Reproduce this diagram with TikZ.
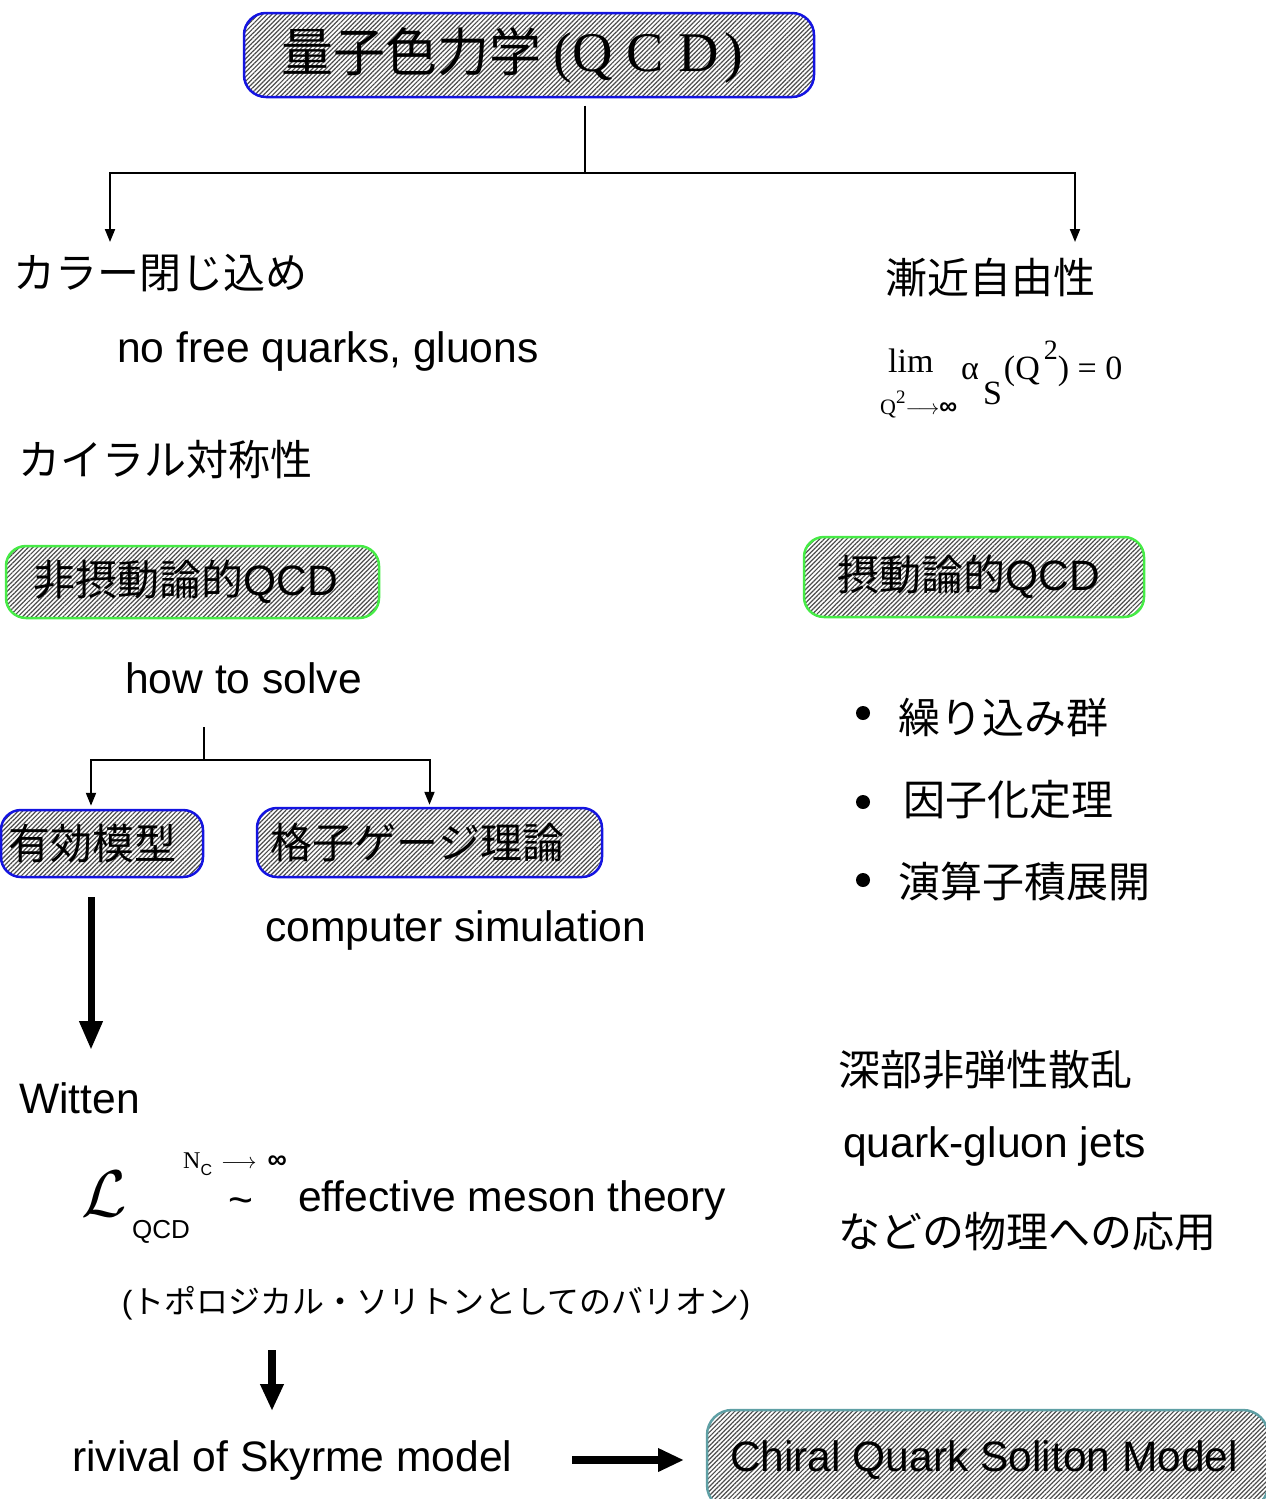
\documentclass[tikz,border=0pt]{standalone}
\usepackage{fix-cm}
\usepackage{fontspec}
\setmainfont{Liberation Sans}
\newfontfamily\cjk{Noto Sans CJK JP}
\newfontfamily\serif{Liberation Serif}
\usetikzlibrary{arrows.meta,patterns.meta}
\definecolor{qblue}{RGB}{20,20,225}
\definecolor{qgreen}{RGB}{70,235,70}
\definecolor{qteal}{RGB}{95,160,165}
\tikzset{
  hbox/.style={rounded corners=20pt, line width=2.5pt, inner sep=0pt,
    pattern={Lines[angle=45,distance=3.2pt,line width=1.2pt]}, pattern color=black!70,
    font=\fontsize{42.5}{50}\selectfont},
  jp/.style={inner sep=0pt, font=\cjk\fontsize{42}{50}\selectfont},
  la/.style={inner sep=0pt, font=\fontsize{42.6}{50}\selectfont},
  conn/.style={line width=2pt},
  thin tip/.style={-{Triangle[width=10pt,length=13pt]}},
  fat/.style={line width=7pt, -{Triangle[width=22pt,length=29pt]}},
  bullet/.style={circle, fill=black, inner sep=0pt, minimum size=14pt}
}
\begin{document}
\begin{tikzpicture}[x=1pt,y=-1pt]
\useasboundingbox (0,0) rectangle (1266,1499);

% top box
\node[hbox, draw=qblue, rounded corners=22pt, minimum width=570pt, minimum height=84pt] (qcd) at (529,55)
  {{\cjk\fontsize{52}{60}\selectfont 量子色力学}\kern12pt{\serif\fontsize{56}{60}\selectfont (Q\kern14pt C\kern14pt D\kern6pt)}\kern33pt};

\coordinate (f1) at (585,173);
\coordinate (a1) at (110,242);
\coordinate (a2) at (1075,242);
\draw[conn, shorten <=8pt] (qcd.south -| f1) -- (f1);
\draw[conn, thin tip] (f1) -| (a1);
\draw[conn, thin tip] (f1) -| (a2);

% left column
\node[jp] (color) at (160,273) {カラー閉じ込め};
\node[la, anchor=base west] (nofree) at (117,362) {no free quarks, gluons};
\node[jp] (chiral) at (165,460) {カイラル対称性};

% right column
\node[jp] (asym) at (990,278) {漸近自由性};
\node[inner sep=0pt, anchor=base west, font=\serif\fontsize{34}{34}\selectfont] (lim) at (888,372) {lim};
\node[inner sep=0pt, anchor=base west] (limsub) at (880,414)
  {{\serif\fontsize{22}{22}\selectfont Q\raisebox{11pt}{\fontsize{19}{19}\selectfont 2}}{\fontsize{21}{21}\selectfont$\longrightarrow$}{\fontsize{25}{25}\selectfont\bfseries ∞}};
\node[inner sep=0pt, anchor=base west, font=\serif\fontsize{34}{34}\selectfont] (alpha) at (961,379)
  {α\kern4pt\raisebox{-25pt}{S}\kern2pt(Q\kern4pt\raisebox{20pt}{\fontsize{28}{28}\selectfont 2}) = 0};

% QCD boxes
\node[hbox, draw=qgreen, minimum width=373pt, minimum height=72pt] (npqcd) at (192.5,582) {{\cjk\fontsize{42}{50}\selectfont 非摂動論的}QCD\kern14pt};
\node[hbox, draw=qgreen, minimum width=340pt, minimum height=80pt] (pqcd) at (974,577) {{\cjk\fontsize{42}{50}\selectfont 摂動論的}QCD\kern10pt};

\node[la, anchor=base west] (solve) at (125,693) {how to solve};

\node[hbox, draw=qblue, minimum width=202pt, minimum height=67pt] (eff) at (102,843.5) {{\cjk\fontsize{42}{50}\selectfont 有効模型}\kern19pt};
\node[hbox, draw=qblue, minimum width=345pt, minimum height=69pt] (lat) at (429.5,842.5) {{\cjk\fontsize{42}{50}\selectfont 格子ゲージ理論}\kern24pt};

\coordinate (f2top) at (204,727);
\coordinate (f2) at (204,760);
\draw[conn] (f2top) -- (f2);
\draw[conn, thin tip, shorten >=3pt] (f2) -| ([xshift=-11pt]eff.north);
\draw[conn, thin tip, shorten >=2pt] (f2) -| (lat.north);

\node[la, anchor=base west] (comp) at (265,941) {computer simulation};

% bullets
\node[bullet] (b1) at (863,713) {};
\node[bullet] (b2) at (863,802) {};
\node[bullet] (b3) at (863,880) {};
\node[jp] (rg) at (1003,718) {繰り込み群};
\node[jp] (fact) at (1008,800) {因子化定理};
\node[jp] (ope) at (1024,882) {演算子積展開};

% thick arrow 1
\coordinate (t1s) at (91,897);
\coordinate (t1e) at (91,1050);
\draw[fat] (t1s) -- (t1e);

\node[la, anchor=base west] (witten) at (19,1113) {Witten};
\node[inner sep=0pt, font=\fontsize{66}{70}\selectfont] (lag) at (104,1194) {$\mathcal{L}$};
\node[inner sep=0pt, anchor=base west, font=\fontsize{26}{30}\selectfont] (lqcd) at (132,1238) {QCD};
\node[inner sep=0pt, anchor=base west] (nc) at (183,1168)
  {{\serif\fontsize{24}{24}\selectfont N}\raisebox{-7pt}{\fontsize{16}{16}\selectfont C}\kern9pt{\fontsize{22}{22}\selectfont$\longrightarrow$}\kern11pt{\fontsize{27}{27}\selectfont\bfseries ∞}};
\node[la, anchor=base] (tilde) at (241,1214) {\textasciitilde};
\node[la, anchor=base west] (emt) at (298,1211) {effective meson theory};

\node[inner sep=0pt, font=\fontsize{32}{36}\selectfont] (topo) at (436,1303) {({\cjk トポロジカル・ソリトンとしてのバリオン})};

\coordinate (t2s) at (272,1350);
\coordinate (t2e) at (272,1411);
\draw[line width=8pt, -{Triangle[width=22pt,length=27pt]}] (t2s) -- (t2e);

\node[la, anchor=base west] (skyrme) at (72,1471) {rivival of Skyrme model};

\coordinate (t3s) at (572,1460);
\coordinate (t3e) at (684,1460);
\draw[line width=8pt, -{Triangle[width=22pt,length=26pt]}] (t3s) -- (t3e);

\node[hbox, draw=qteal, rounded corners=25pt, minimum width=561pt, minimum height=100pt] (cqsm) at (987.5,1460) {Chiral Quark Soliton Model\kern7pt};

% right bottom texts
\node[jp] (dis) at (985,1070) {深部非弾性散乱};
\node[la, anchor=base west] (jets) at (843,1157) {quark-gluon jets};
\node[jp] (appl) at (1027,1232) {などの物理への応用};
\end{tikzpicture}
\end{document}
